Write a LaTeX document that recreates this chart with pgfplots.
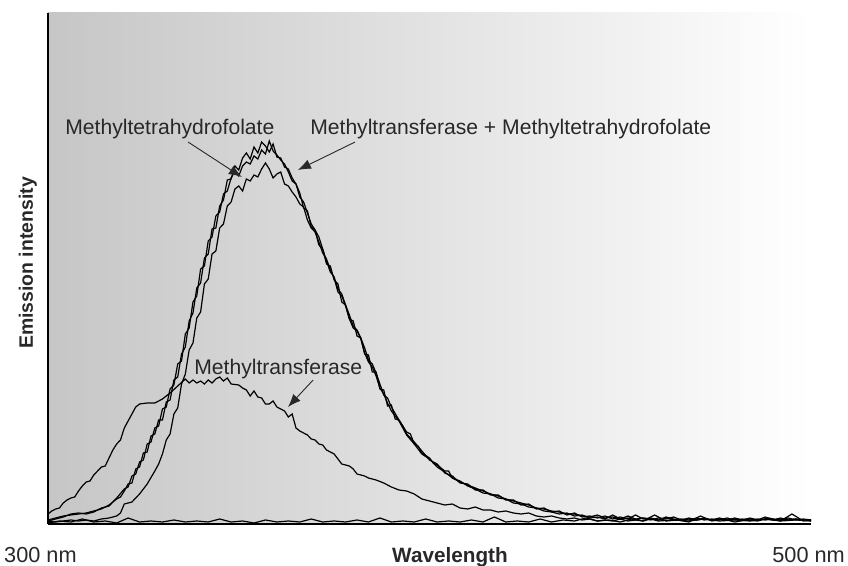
\documentclass[border=0pt]{standalone}
\usepackage{pgfplots}
\pgfplotsset{compat=1.18}
\usetikzlibrary{arrows.meta}
\usepackage{fontspec}
\setmainfont{Liberation Sans}

\definecolor{bgleft}{RGB}{198,198,198}
\definecolor{bgright}{RGB}{255,255,255}
\definecolor{txt}{RGB}{40,40,40}

\begin{document}
\begin{tikzpicture}[x=1bp,y=1bp]
\useasboundingbox (-48,-42) rectangle (800,524);
\begin{axis}[
  at={(0,0)}, anchor=south west,
  scale only axis, width=763bp, height=511bp,
  xmin=300, xmax=500, ymin=0, ymax=511,
  axis x line*=bottom, axis y line*=left,
  axis line style={-, line width=2.6bp, black},
  xtick=\empty, ytick=\empty,
  axis background/.style={left color=bgleft, right color=bgright},
  cycle list={{black, mark=none}},
  every axis plot/.append style={line width=1.2bp, line join=miter},
  no markers,
  clip=true,
]
% Methyltetrahydrofolate
\addplot coordinates {
(300,4)(302,6)(304,8)(306,9)(308,10)(310,11)(312,13)(314,15)(316,19)(318,25)(319,27)
(320,33)(321,40)(322,41)(323,55)(324,57)(325,71)(326,72)(327,88)(328,90)(329,104)
(330,104)(331,122)(332,124)(333,144)(334,147)(335,170)(336,177)(337,203)(338,211)(339,236)
(340,241)(341,266)(342,270)(343,295)(344,296)(345,318)(346,324)(347,344)(348,345)(349,358)
(350,354)(351,366)(352,371)(353,365)(354,377)(355,371)(356,382)(357,378)(358,372)(359,380)
(360,367)(361,366)(362,357)(363,355)(364,346)(365,340)(366,331)(367,316)(368,313)(369,297)
(370,294)(371,279)(372,275)(373,260)(374,258)(375,244)(376,240)(377,222)(378,219)(379,205)
(380,203)(381,188)(382,186)(383,170)(384,169)(385,152)(386,152)(387,135)(388,134)(389,118)
(390,119)(391,105)(392,104)(394,92)(395,90)(396,80)(397,78)(398,71)(400,66)(401,61)
(402,59)(404,53)(405,53)(406,46)(408,42)(410,39)
(412,36)(414,33)(416,30)(418,28)(420,25)(422,23)(424,21)(426,19)(428,16)(430,15)
(432,13)(434,12)(436,10)(438,10)(440,8)(442,7)(444,9)(446,6)(448,7)(450,5)
(452,8)(454,5)(456,6)(458,4)(460,6)(462,5)(464,7)(466,4)(468,5)(470,4)
(472,6)(474,4)(476,5)(478,4)(480,6)(482,4)(484,5)(486,4)(488,7)(490,4)
(492,5)(494,4)(496,5)(498,4)(500,4)
};
% Methyltransferase + Methyltetrahydrofolate
\addplot coordinates {
(300,3)(302,5)(304,7)(306,10)(308,11)(310,10)(312,12)(314,16)(316,18)(318,26)
(320,35)(321,37)(322,48)(323,50)(324,62)(325,64)(326,80)(327,82)(328,96)(329,98)
(330,115)(331,117)(332,135)(333,139)(334,160)(335,163)(336,190)(337,196)(338,222)(339,228)
(340,255)(341,258)(342,283)(343,287)(344,308)(345,312)(346,330)(347,333)(348,346)(349,353)
(350,348)(351,358)(352,362)(353,360)(354,368)(355,365)(356,374)(357,370)(358,383)(359,373)
(360,369)(361,364)(362,360)(363,352)(364,343)(365,340)(366,327)(367,322)(368,311)(369,300)
(370,294)(371,287)(372,275)(373,263)(374,252)(375,247)(376,235)(377,230)(378,219)(379,209)
(380,198)(381,194)(382,186)(383,176)(384,164)(385,160)(386,151)(387,140)(388,129)(389,126)
(390,117)(392,104)(393,98)(394,90)(396,82)(398,73)(400,64)(402,60)(404,51)(406,48)
(408,41)(410,40)(412,34)(414,34)(416,29)(418,29)(420,24)(422,24)(424,19)(426,20)
(428,15)(430,16)(432,12)(434,13)(436,9)(438,11)(440,7)(442,8)(444,6)(446,8)
(448,5)(450,7)(452,5)(454,9)(456,5)(458,6)(460,4)(462,7)(464,5)(466,4)
(468,6)(470,4)(472,5)(474,4)(476,6)(478,4)(480,5)(482,4)(484,6)(486,4)
(488,5)(490,4)(492,6)(494,4)(496,5)(498,4)(500,3)
};
% third emission run
\addplot coordinates {
(300,3)(302,2)(304,3)(306,4)(308,3)(310,4)(312,3)(314,5)(316,6)(318,8)
(319,11)(320,20)(322,22)(324,30)(326,40)(328,53)(329,60)
(330,70)(331,84)(332,90)(333,110)(334,116)(335,140)(336,150)(337,174)(338,181)(339,206)
(340,212)(341,240)(342,245)(343,270)(344,273)(345,296)(346,300)(347,318)(348,322)(349,335)
(350,338)(351,333)(352,345)(353,343)(354,349)(355,347)(356,355)(357,361)(358,355)(359,346)
(360,350)(361,352)(362,340)(363,338)(364,332)(365,327)(366,320)(367,317)(368,304)(369,296)
(370,292)(371,282)(372,271)(373,265)(374,254)(375,246)(376,232)(377,228)(378,218)(379,205)
(380,196)(381,193)(382,185)(383,171)(384,162)(385,157)(386,148)(387,136)(388,130)(389,121)
(390,113)(392,103)(394,89)(396,80)(398,70)(400,65)(402,57)(404,52)(406,46)
(408,43)(410,38)(412,35)(414,31)(416,30)(418,26)(420,25)(422,21)(424,20)(426,17)
(428,16)(430,13)(432,12)(434,10)(436,11)(438,8)(440,9)(442,6)(444,7)(446,5)
(448,9)(450,5)(452,6)(454,4)(456,6)(458,5)(460,4)(462,6)(464,4)(466,5)
(468,4)(470,6)(472,4)(474,5)(476,4)(478,6)(480,4)(482,5)(484,4)(486,5)
(488,4)(490,5)(492,4)(494,6)(496,4)(498,5)(500,4)
};
% Methyltransferase
\addplot coordinates {
(300,10)(301,13)(302,15)(303,16)(304,21)(305,24)(306,26)(307,27)(308,33)(309,38)
(310,42)(311,43)(312,49)(313,53)(314,57)(315,58)(316,66)(317,74)(318,80)(319,84)
(320,96)(321,103)(322,110)(323,117)(324,120)(326,121)(328,121)(330,125)(332,131)(334,138)
(336,145)(337,141)(338,144)(339,141)(340,143)(341,140)(342,144)(343,141)(344,145)(345,147)
(346,143)(347,146)(348,140)(350,139)(351,136)(352,134)(353,128)(354,133)(355,127)(356,126)
(357,120)(358,120)(359,123)(360,117)(362,113)(363,107)(364,110)(365,96)(366,93)(367,91)
(368,89)(369,85)(370,84)(371,80)(372,79)(373,74)(374,72)(375,70)(376,65)(377,60)
(378,59)(379,58)(380,55)(381,50)(382,49)(383,48)(384,46)(386,44)(388,41)(390,37)
(392,34)(394,33)(396,30)(398,25)(400,23)
(402,21)(404,19)(406,20)(408,16)(410,15)(412,17)(414,14)(416,14)(418,12)(420,13)
(422,11)(424,10)(426,11)(428,8)(430,7)(432,8)(434,6)(436,5)(438,6)(440,4)
(442,5)(444,3)(446,4)(448,3)(450,5)(452,3)(454,4)(456,3)(458,5)(460,3)
(464,4)(468,3)(472,5)(476,3)(480,4)(484,3)(488,5)(492,3)(496,4)(500,3)
};
% buffer baseline
\addplot coordinates {
(300,1)(303,3)(306,2)(309,5)(312,2)(315,3)(318,1)(321,6)(324,2)(327,3)
(330,2)(333,4)(336,2)(339,3)(342,2)(345,5)(348,2)(351,3)(354,1)(357,4)
(360,2)(363,3)(366,2)(369,5)(372,2)(375,3)(378,2)(381,4)(384,2)(387,6)
(390,2)(393,3)(396,2)(399,5)(402,2)(405,3)(408,2)(411,4)(414,2)(417,7)
(420,2)(423,3)(426,2)(429,5)(432,2)(435,4)(438,3)(441,6)(444,3)(447,4)
(450,2)(453,5)(456,3)(459,9)(462,3)(465,4)(468,2)(471,8)(474,3)(477,5)
(480,2)(483,4)(486,3)(489,6)(492,3)(495,10)(498,3)(500,4)
};

% annotations
\begin{scope}[every node/.style={inner sep=0pt, text=txt, font=\fontsize{21.2}{25}\selectfont}]
\node[anchor=base west] at (axis cs:304.5,389) {Methyltetrahydrofolate};
\node[anchor=base west] at (axis cs:368.7,389) {Methyltransferase + Methyltetrahydrofolate};
\node[anchor=base west] at (axis cs:338.3,149) {Methyltransferase};
\end{scope}
\begin{scope}[txt, line width=0.9bp, -{Latex[length=13bp,width=10bp]}]
\draw (axis cs:336.7,382) -- (axis cs:350.8,347);
\draw (axis cs:380.5,382) -- (axis cs:365.5,354);
\draw (axis cs:369.5,144) -- (axis cs:362.9,117);
\end{scope}
\end{axis}

\begin{scope}[every node/.style={inner sep=0pt, text=txt, font=\fontsize{21.8}{25}\selectfont}]
\node[anchor=base west] at (-44,-39) {300 nm};
\node[anchor=base east] at (797,-39) {500 nm};
\node[anchor=base, font=\fontsize{20.8}{25}\selectfont\bfseries] at (402,-39) {Wavelength};
\node[anchor=base, rotate=90, font=\fontsize{19.5}{24}\selectfont\bfseries] at (-15,261) {Emission intensity};
\end{scope}
\end{tikzpicture}
\end{document}
